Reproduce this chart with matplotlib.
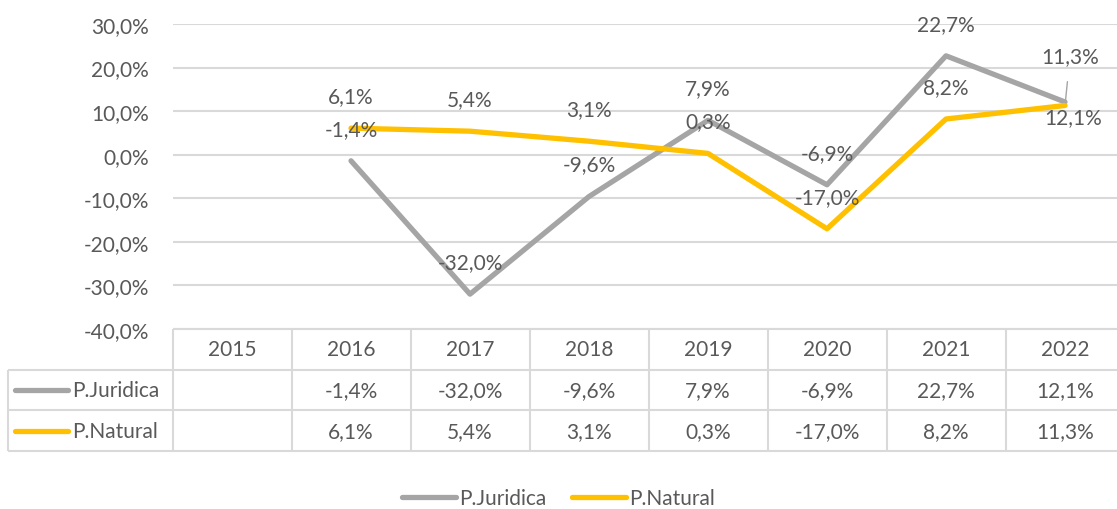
import matplotlib
matplotlib.use("Agg")
import matplotlib.pyplot as plt
from matplotlib.lines import Line2D

plt.rcParams['font.family'] = ['Lato', 'DejaVu Sans']

years = ['2015', '2016', '2017', '2018', '2019', '2020', '2021', '2022']
series_names = ['P.Juridica', 'P.Natural']
juridica = [None, -1.4, -32.0, -9.6, 7.9, -6.9, 22.7, 12.1]
natural = [None, 6.1, 5.4, 3.1, 0.3, -17.0, 8.2, 11.3]
yticks = [-40, -30, -20, -10, 0, 10, 20, 30]

GRAY = '#A5A5A5'
YELLOW = '#FFC000'
TXT = '#595959'
GRID = '#D9D9D9'
FS = 15

W, H = 1117, 510
fig = plt.figure(figsize=(W / 100, H / 100), dpi=100)

ax_left = 172.5 / W
ax_w = 952 / W
ax = fig.add_axes([ax_left, (H - 330) / H, ax_w, 305 / H])
x = list(range(len(years)))

def fmt(v):
    return f"{v:.1f}%".replace('.', ',')

def pts(vals):
    xs = [i for i, v in zip(x, vals) if v is not None]
    ys = [v for v in vals if v is not None]
    return xs, ys

for vals, col in [(juridica, GRAY), (natural, YELLOW)]:
    xs, ys = pts(vals)
    ax.plot(xs, ys, color=col, lw=3.8, solid_capstyle='round', zorder=3)

ax.set_xlim(-0.5, len(years) - 0.5)
ax.set_ylim(-40, 30)
ax.set_yticks(yticks)
ax.set_yticklabels([fmt(v) for v in yticks], fontsize=FS, color=TXT)
ax.tick_params(axis='y', length=0, pad=17)
ax.set_xticks([])
for s in ax.spines.values():
    s.set_visible(False)
ax.yaxis.grid(True, color=GRID, lw=1.5, zorder=0)
ax.set_axisbelow(True)
ax.patch.set_alpha(0)

# data labels
last = len(years) - 1
for vals in (juridica, natural):
    for i, v in enumerate(vals):
        if v is None:
            continue
        if i == last:
            continue
        ax.annotate(fmt(v), (i, v), xytext=(0, 32), textcoords='offset pixels',
                    ha='center', va='center', fontsize=FS, color=TXT, zorder=5)
# last point labels (manually moved in original)
ax.annotate(fmt(natural[last]), (last, natural[last]), xytext=(5, 49),
            textcoords='offset pixels', ha='center', va='center', fontsize=FS,
            color=TXT, zorder=5,
            arrowprops=dict(arrowstyle='-', color=GRAY, lw=1, shrinkA=9, shrinkB=2))
ax.annotate(fmt(juridica[last]), (last, juridica[last]), xytext=(8, -15),
            textcoords='offset pixels', ha='center', va='center', fontsize=FS,
            color=TXT, zorder=5)

# data table
tab = fig.add_axes([ax_left, (H - 452) / H, ax_w, 122 / H])
tab.set_xlim(-0.5, len(years) - 0.5)
tab.set_ylim(3, 0)
tab.axis('off')
def px2x(p):
    return -0.5 + (p - 172.5) / 119.0
xl = px2x(8)
lk = dict(color=GRID, lw=1.5, clip_on=False, solid_capstyle='butt')
tab.plot([-0.5, len(years) - 0.5], [0, 0], **lk)
for r in (1, 2, 3):
    tab.plot([xl, len(years) - 0.5], [r, r], **lk)
for c in range(len(years) + 1):
    tab.plot([c - 0.5, c - 0.5], [0, 3], **lk)
tab.plot([xl, xl], [1, 3], **lk)

for i, yr in enumerate(years):
    tab.text(i, 0.5, yr, ha='center', va='center', fontsize=FS, color=TXT)
for r, (name, vals, col) in enumerate([(series_names[0], juridica, GRAY),
                                       (series_names[1], natural, YELLOW)], start=1):
    tab.plot([px2x(15), px2x(68)], [r + 0.5, r + 0.5], color=col, lw=3.8,
             solid_capstyle='round', clip_on=False)
    tab.text(px2x(72), r + 0.5, name, ha='left', va='center', fontsize=FS, color=TXT)
    for i, v in enumerate(vals):
        if v is not None:
            tab.text(i, r + 0.5, fmt(v), ha='center', va='center', fontsize=FS, color=TXT)

handles = [Line2D([], [], color=GRAY, lw=3.8, solid_capstyle='round'),
           Line2D([], [], color=YELLOW, lw=3.8, solid_capstyle='round')]
leg = fig.legend(handles, series_names, loc='center', bbox_to_anchor=(0.5, 11 / H),
                 ncol=2, frameon=False, fontsize=FS, handlelength=2.6,
                 handletextpad=0.15, columnspacing=1.2, labelcolor=TXT)

fig.savefig('out.png', dpi=100)
